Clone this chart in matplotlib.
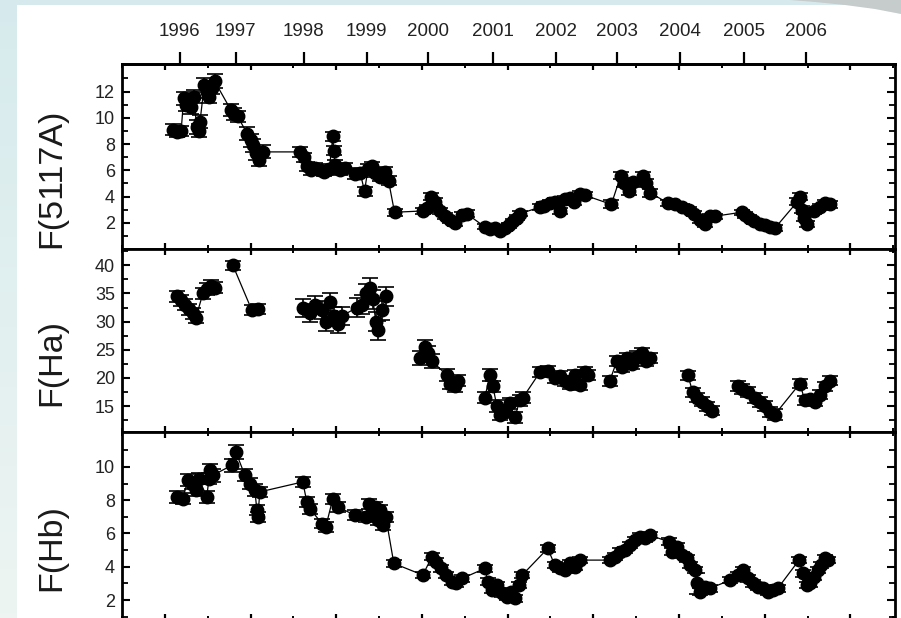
import matplotlib
matplotlib.use("Agg")
import matplotlib.pyplot as plt
import numpy as np
from matplotlib.patches import Polygon, Rectangle
from matplotlib.ticker import FixedLocator, MultipleLocator

plt.rcParams["font.family"] = ["Liberation Sans", "DejaVu Sans"]

# Julian dates are JD - 2400000
years = [1996, 1997, 1998, 1999, 2000, 2001, 2002, 2003, 2004, 2005, 2006]
year_jd = [50088, 50414, 50811, 51178, 51534, 51914, 52281, 52637, 53005, 53378, 53740]

# continuum flux at 5117 A
c5117_jd = [
    50050, 50070, 50095,
    50110, 50125, 50140, 50155, 50170,
    50185, 50200, 50205,
    50230, 50245, 50260, 50275, 50290,
    50385, 50405, 50425,
    50480, 50500, 50515, 50530, 50550, 50570,
    50790, 50810, 50830, 50850, 50875, 50905, 50930, 50960, 50980, 50985, 50995, 51020, 51050,
    51110, 51140, 51165, 51185, 51210, 51225, 51255, 51285, 51305,
    51340, 51505, 51530, 51550, 51575, 51605, 51635, 51665, 51690, 51735, 51760,
    51865, 51895, 51925, 51955, 51985, 52005, 52030, 52055, 52075,
    52190, 52215, 52245, 52275, 52305, 52335, 52365, 52390, 52420, 52450,
    52605, 52660, 52680, 52710, 52730, 52790, 52805, 52830,
    52935, 52975, 53015, 53060, 53090, 53120, 53150, 53180, 53210,
    53365, 53385, 53410, 53440, 53470, 53500, 53530, 53560,
    53690, 53705, 53720, 53730, 53745, 53790, 53820, 53850, 53880,
]
c5117_flux = [
    9.1, 8.9, 9.0,
    11.5, 11.0, 11.3, 10.8, 11.6,
    9.3, 9.0, 9.7,
    12.5, 12.0, 11.6, 12.3, 12.8,
    10.6, 10.3, 10.1,
    8.8, 8.3, 7.9, 7.3, 6.8, 7.4,
    7.4, 7.0, 6.3, 6.0, 6.2, 6.0, 5.9, 6.1, 8.6, 7.5, 6.4, 6.0, 6.2,
    5.7, 5.8, 4.4, 6.1, 6.3, 5.8, 5.5, 5.9, 5.2,
    2.8, 2.9, 3.1, 4.0, 3.6, 2.9, 2.5, 2.2, 2.0, 2.6, 2.7,
    1.7, 1.5, 1.6, 1.4, 1.6, 1.8, 2.1, 2.4, 2.7,
    3.2, 3.3, 3.5, 3.6, 2.9, 3.8, 3.9, 3.6, 4.2, 4.1,
    3.4, 5.6, 5.0, 4.4, 5.1, 5.6, 5.0, 4.3,
    3.5, 3.4, 3.2, 3.0, 2.7, 2.2, 1.9, 2.5, 2.5,
    2.8, 2.6, 2.4, 2.1, 1.9, 1.8, 1.7, 1.6,
    3.6, 4.0, 3.0, 2.4, 1.9, 2.9, 3.2, 3.5, 3.4,
]
c5117_err = [
    0.4, 0.4, 0.4,
    0.5, 0.5, 0.5, 0.5, 0.5,
    0.5, 0.5, 0.5,
    0.5, 0.5, 0.5, 0.5, 0.5,
    0.45, 0.45, 0.45,
    0.5, 0.5, 0.5, 0.5, 0.5, 0.5,
    0.35, 0.35, 0.35, 0.35, 0.35, 0.35, 0.35, 0.35, 0.35, 0.35, 0.35, 0.35, 0.35,
    0.35, 0.35, 0.35, 0.35, 0.35, 0.35, 0.35, 0.35, 0.35,
    0.25, 0.25, 0.25, 0.25, 0.25, 0.25, 0.25, 0.25, 0.25, 0.25, 0.25,
    0.2, 0.2, 0.2, 0.2, 0.2, 0.2, 0.2, 0.2, 0.2,
    0.25, 0.25, 0.25, 0.25, 0.25, 0.25, 0.25, 0.25, 0.25, 0.25,
    0.3, 0.3, 0.3, 0.3, 0.3, 0.3, 0.3, 0.3,
    0.2, 0.2, 0.2, 0.2, 0.2, 0.2, 0.2, 0.2, 0.2,
    0.2, 0.2, 0.2, 0.2, 0.2, 0.2, 0.2, 0.2,
    0.25, 0.25, 0.25, 0.25, 0.25, 0.25, 0.25, 0.25, 0.25,
]

# H-alpha flux; line drawn only inside each observing season
ha_jd = [
    50070, 50093, 50117, 50140, 50163, 50181, 50222, 50245, 50268, 50292,
    50397, 50508, 50543,
    50805, 50846, 50875, 50916, 50939, 50963, 50986, 51009, 51033,
    51120, 51149, 51173, 51196, 51213, 51231, 51243, 51266, 51289,
    51488, 51517, 51534, 51558, 51645, 51663, 51692, 51709,
    51867, 51896, 51914, 51937, 51954, 51984, 52013, 52042, 52071, 52089,
    52188, 52234, 52275, 52304, 52334, 52363, 52392, 52421, 52450, 52468,
    52596, 52637, 52666, 52696, 52725, 52754, 52783, 52806, 52830,
    53051, 53080, 53104, 53133, 53162, 53191,
    53343, 53366, 53401, 53442, 53471, 53500, 53530, 53559,
    53705, 53734, 53763, 53792, 53821, 53850, 53880,
]
ha_flux = [
    34.5, 33.8, 33.0, 32.2, 31.5, 30.7, 35.0, 35.8, 36.4, 36.0,
    40.0, 32.0, 32.2,
    32.5, 31.5, 33.0, 32.0, 30.0, 33.5, 31.0, 29.5, 31.0,
    32.5, 33.0, 35.0, 36.0, 34.0, 30.0, 28.5, 32.0, 34.5,
    23.5, 25.5, 24.5, 23.0, 20.5, 19.0, 18.5, 19.5,
    16.5, 20.5, 18.5, 15.0, 13.5, 14.0, 15.5, 13.0, 16.0, 16.5,
    21.0, 21.2, 20.0, 20.3, 19.5, 19.0, 20.5, 18.8, 21.0, 20.5,
    19.5, 23.0, 22.0, 23.5, 22.5, 23.8, 24.5, 23.0, 23.5,
    20.5, 17.5, 16.5, 15.8, 15.0, 14.2,
    18.5, 18.0, 17.5, 16.5, 15.8, 15.0, 14.0, 13.5,
    19.0, 16.0, 16.2, 15.8, 17.0, 18.5, 19.5,
]
ha_err = [
    1.0, 1.0, 1.0, 1.0, 1.0, 1.0, 1.0, 1.0, 1.0, 1.0,
    0.8, 0.9, 0.9,
    1.6, 1.6, 1.6, 1.6, 1.6, 1.6, 1.6, 1.6, 1.6,
    1.7, 1.7, 1.7, 1.7, 1.7, 1.7, 1.7, 1.7, 1.7,
    1.2, 1.2, 1.2, 1.2, 1.0, 1.0, 1.0, 1.0,
    1.0, 1.0, 1.0, 1.0, 1.0, 1.0, 1.0, 1.0, 1.0, 1.0,
    0.9, 0.9, 0.9, 0.9, 0.9, 0.9, 0.9, 0.9, 0.9, 0.9,
    0.9, 0.9, 0.9, 0.9, 0.9, 0.9, 0.9, 0.9, 0.9,
    0.8, 0.8, 0.8, 0.8, 0.8, 0.8,
    0.9, 0.9, 0.9, 0.9, 0.9, 0.9, 0.9, 0.9,
    0.8, 0.8, 0.8, 0.8, 0.8, 0.8, 0.8,
]
ha_season_starts = [0, 10, 13, 31, 39, 59, 68, 74, 89]

# H-beta flux
hb_jd = [
    50070, 50105, 50134, 50158, 50181, 50198, 50245, 50257, 50263, 50280,
    50391, 50414, 50467, 50496, 50525, 50537, 50543, 50554,
    50805, 50828, 50846, 50916, 50939, 50980, 51009,
    51108, 51173, 51190, 51208, 51225, 51243, 51254, 51272, 51289,
    51336, 51505, 51558, 51581, 51610, 51640, 51675, 51700, 51735,
    51867, 51884, 51908, 51937, 51966, 51995, 52020, 52045, 52065, 52085,
    52234, 52275, 52304, 52334, 52363, 52392, 52421,
    52596, 52625, 52654, 52684, 52713, 52742, 52771, 52800, 52830,
    52940, 52960, 52990, 53020, 53045, 53063, 53092, 53104, 53121, 53150, 53180,
    53300, 53343, 53372, 53401, 53431, 53460, 53489, 53518, 53547, 53576,
    53700, 53722, 53745, 53765, 53790, 53810, 53830, 53850, 53870,
]
hb_flux = [
    8.2, 8.1, 9.2, 9.0, 8.6, 9.3, 8.2, 9.3, 9.8, 9.5,
    10.1, 10.9, 9.5, 9.0, 8.6, 7.4, 7.0, 8.5,
    9.1, 7.9, 7.5, 6.6, 6.4, 8.1, 7.6,
    7.1, 7.0, 7.8, 7.3, 7.6, 6.8, 7.4, 6.5, 7.0,
    4.2, 3.5, 4.6, 4.3, 3.9, 3.5, 3.1, 3.0, 3.3,
    3.9, 3.1, 2.6, 2.9, 2.4, 2.2, 2.5, 2.1, 2.9, 3.5,
    5.1, 4.1, 3.9, 3.8, 4.2, 4.0, 4.4,
    4.4, 4.6, 4.9, 5.0, 5.3, 5.6, 5.8, 5.7, 5.9,
    5.5, 4.9, 5.2, 4.7, 4.5, 4.1, 3.8, 3.0, 2.5, 2.8, 2.7,
    3.2, 3.5, 3.8, 3.3, 3.0, 2.8, 2.7, 2.5, 2.6, 2.7,
    4.4, 3.6, 2.9, 3.0, 3.4, 3.8, 4.1, 4.5, 4.4,
]
hb_err = [
    0.35, 0.35, 0.35, 0.35, 0.35, 0.35, 0.35, 0.35, 0.4, 0.4,
    0.4, 0.4, 0.35, 0.35, 0.35, 0.3, 0.3, 0.3,
    0.3, 0.3, 0.3, 0.3, 0.3, 0.3, 0.3,
    0.3, 0.3, 0.3, 0.3, 0.3, 0.3, 0.3, 0.3, 0.3,
    0.2, 0.2, 0.2, 0.2, 0.2, 0.2, 0.2, 0.2, 0.2,
    0.2, 0.2, 0.2, 0.2, 0.2, 0.2, 0.2, 0.2, 0.2, 0.2,
    0.2, 0.2, 0.2, 0.2, 0.2, 0.2, 0.2,
    0.2, 0.2, 0.2, 0.2, 0.2, 0.2, 0.2, 0.2, 0.2,
    0.2, 0.2, 0.2, 0.2, 0.2, 0.2, 0.2, 0.65, 0.2, 0.2, 0.2,
    0.2, 0.2, 0.2, 0.2, 0.2, 0.2, 0.2, 0.2, 0.2, 0.2,
    0.2, 0.2, 0.2, 0.2, 0.2, 0.2, 0.2, 0.2, 0.2,
]

W, H = 901, 618
fig = plt.figure(figsize=(W / 100, H / 100), dpi=100)


def px_box(x0, y0, x1, y1):
    """Axes rectangle from pixel corners (origin top-left)."""
    return [x0 / W, 1 - y1 / H, (x1 - x0) / W, (y1 - y0) / H]


def fig_xy(points):
    return [(x / W, 1 - y / H) for x, y in points]


# slide background: tinted margin, white card, grey swoosh top-right
bg = fig.add_axes([0, 0, 1, 1], zorder=-10)
grad = np.linspace(0, 1, 256)[:, None]
top_c = np.array([0.84, 0.92, 0.93])
bot_c = np.array([0.93, 0.96, 0.95])
bg.imshow(top_c + grad[..., None] * (bot_c - top_c), aspect="auto",
          extent=[0, 1, 0, 1], origin="upper")
bg.add_patch(Rectangle((17 / W, 0), 1, 1 - 5 / H, color="white", lw=0))
bg.add_patch(Polygon(fig_xy(
    [(790, 0), (901, 0), (901, 14), (875, 9), (845, 5), (815, 2)]),
    closed=True, color="#c6cbcb", lw=0))
bg.set_xlim(0, 1)
bg.set_ylim(0, 1)
bg.axis("off")

ax1 = fig.add_axes(px_box(122, 64, 895, 249))
ax2 = fig.add_axes(px_box(122, 249, 895, 432))
ax3 = fig.add_axes(px_box(122, 432, 895, 620))


def draw_series(ax, jd, flux, err, starts):
    for s, e in zip(starts[:-1], starts[1:]):
        ax.plot(jd[s:e], flux[s:e], color="black", lw=0.9, zorder=2)
    ax.errorbar(jd, flux, yerr=err, fmt="o", ms=9, color="black",
                ecolor="black", elinewidth=1.2, capsize=5.5, capthick=1.2,
                zorder=3)


draw_series(ax1, c5117_jd, c5117_flux, c5117_err, [0, len(c5117_jd)])
draw_series(ax2, ha_jd, ha_flux, ha_err, ha_season_starts)
draw_series(ax3, hb_jd, hb_flux, hb_err, [0, len(hb_jd)])

panels = [
    (ax1, (0.0, 14.1), [2, 4, 6, 8, 10, 12], [1, 3, 5, 7, 9, 11, 13], "F(5117A)", 178),
    (ax2, (10.4, 42.9), [15, 20, 25, 30, 35, 40],
     [12.5, 17.5, 22.5, 27.5, 32.5, 37.5, 42.5], "F(Ha)", 363),
    (ax3, (0.8, 12.1), [2, 4, 6, 8, 10], [1, 3, 5, 7, 9, 11], "F(Hb)", 548),
]

for ax, ylim, major, minor, label, label_y in panels:
    ax.set_facecolor("white")
    ax.set_xlim(49750, 54260)
    ax.set_ylim(*ylim)
    ax.xaxis.set_major_locator(MultipleLocator(500))
    ax.xaxis.set_minor_locator(MultipleLocator(250))
    ax.yaxis.set_major_locator(FixedLocator(major))
    ax.yaxis.set_minor_locator(FixedLocator(minor))
    ax.tick_params(axis="x", which="both", direction="in", top=True,
                   bottom=True, labelbottom=False, labeltop=False)
    ax.tick_params(axis="x", which="major", length=4.5, width=1.6)
    ax.tick_params(axis="x", which="minor", length=3.0, width=1.4)
    ax.tick_params(axis="y", which="both", direction="in", left=True,
                   right=True, labelsize=13, labelcolor="#222222", pad=5)
    ax.tick_params(axis="y", which="major", length=5.5, width=1.5)
    ax.tick_params(axis="y", which="minor", length=4.0, width=1.3)
    for sp in ax.spines.values():
        sp.set_linewidth(2.0)
    fig.text(52 / W, 1 - label_y / H, label, rotation=90, ha="center",
             va="center", fontsize=24.5, color="#1a1a1a")

# calendar years along the top of the first panel
sec = ax1.secondary_xaxis("top")
sec.set_xticks(year_jd, labels=[str(y) for y in years])
sec.tick_params(direction="out", length=9, width=1.6, labelsize=13.5,
                pad=8, labelcolor="#222222")
sec.spines["top"].set_linewidth(2.0)

fig.savefig("out.png", dpi=100)
